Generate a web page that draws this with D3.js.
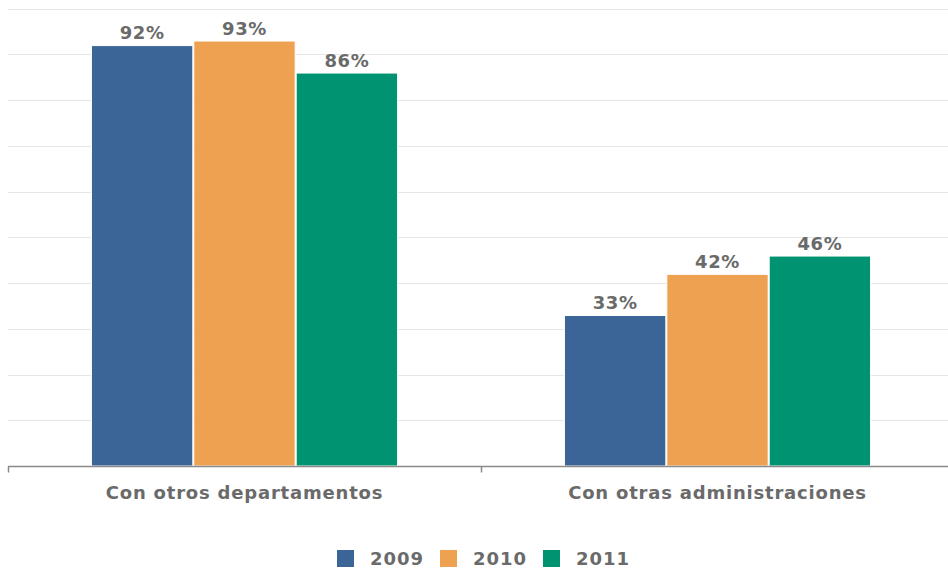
<!DOCTYPE html>
<html>
<head>
<meta charset="utf-8">
<script src="https://cdn.jsdelivr.net/npm/d3@7"></script>
<style>
  html, body { margin: 0; padding: 0; background: #fff; }
  svg text { font-family: "DejaVu Sans", Verdana, sans-serif; font-weight: bold; }
</style>
</head>
<body>
<svg id="chart" width="948" height="575"></svg>
<script>
// Categories, series and values
const categories = ["Con otros departamentos", "Con otras administraciones"];
const years = ["2009", "2010", "2011"];
const values2009 = [92, 33];
const values2010 = [93, 42];
const values2011 = [86, 46];
const seriesValues = [values2009, values2010, values2011];
const colors = ["#3b6596", "#eea151", "#009371"];
const yTicks = [0, 10, 20, 30, 40, 50, 60, 70, 80, 90, 100];

const svg = d3.select("#chart");
const plotLeft = 8, plotRight = 954, plotTop = 8.5, plotBottom = 466;

const x0 = d3.scaleBand().domain(categories).range([plotLeft, plotRight]).padding(0);
const x1 = d3.scaleBand().domain(years).range([0, x0.bandwidth()]).paddingInner(0).paddingOuter(0.81);
const y = d3.scaleLinear().domain([0, 100]).range([plotBottom, plotTop]);

// Horizontal grid lines
svg.append("g")
  .selectAll("line")
  .data(yTicks.filter(t => t > 0))
  .join("line")
  .attr("x1", plotLeft).attr("x2", 948)
  .attr("y1", d => Math.round(y(d)) + 0.5).attr("y2", d => Math.round(y(d)) + 0.5)
  .attr("stroke", "#e6e6e6").attr("stroke-width", 1);

// Bars
const rows = [];
categories.forEach((c, ci) => years.forEach((yr, si) => rows.push({ c, yr, si, v: seriesValues[si][ci] })));

svg.append("g")
  .selectAll("rect")
  .data(rows)
  .join("rect")
  .attr("x", d => x0(d.c) + x1(d.yr) + 0.5)
  .attr("y", d => y(d.v) + 0.5)
  .attr("width", x1.bandwidth() - 1)
  .attr("height", d => plotBottom - y(d.v) - 0.5)
  .attr("fill", d => colors[d.si])
  .attr("stroke", "#fff").attr("stroke-width", 1);

// Value labels
svg.append("g")
  .selectAll("text")
  .data(rows)
  .join("text")
  .attr("x", d => x0(d.c) + x1(d.yr) + x1.bandwidth() / 2)
  .attr("y", d => y(d.v) - 6)
  .attr("text-anchor", "middle")
  .attr("font-size", 18)
  .attr("letter-spacing", "0.6px")
  .attr("fill", "#6a6a6a")
  .text(d => d.v + "%");

// Category axis
const xAxis = svg.append("g").attr("transform", `translate(0,${plotBottom + 0.5})`);
xAxis.append("line").attr("x1", plotLeft).attr("x2", 948).attr("stroke", "#8a8a8a").attr("stroke-width", 1.5);
const bounds = categories.map(c => x0(c));
xAxis.selectAll("line.tick")
  .data(bounds)
  .join("line")
  .attr("class", "tick")
  .attr("x1", d => d + 0.5).attr("x2", d => d + 0.5)
  .attr("y1", 0).attr("y2", 6)
  .attr("stroke", "#8a8a8a").attr("stroke-width", 1.5);
xAxis.selectAll("text")
  .data(categories)
  .join("text")
  .attr("x", d => x0(d) + x0.bandwidth() / 2)
  .attr("y", 32)
  .attr("text-anchor", "middle")
  .attr("font-size", 18)
  .attr("letter-spacing", "0.8px")
  .attr("fill", "#6a6a6a")
  .text(d => d);

// Legend
const legend = svg.append("g").attr("transform", "translate(337,550)");
const itemStep = 103;
const item = legend.selectAll("g")
  .data(years)
  .join("g")
  .attr("transform", (d, i) => `translate(${i * itemStep},0)`);
item.append("rect")
  .attr("width", 17).attr("height", 17)
  .attr("fill", (d, i) => colors[i]);
item.append("text")
  .attr("x", 33).attr("y", 15)
  .attr("font-size", 18)
  .attr("letter-spacing", "1px")
  .attr("fill", "#6a6a6a")
  .text(d => d);
</script>
</body>
</html>
